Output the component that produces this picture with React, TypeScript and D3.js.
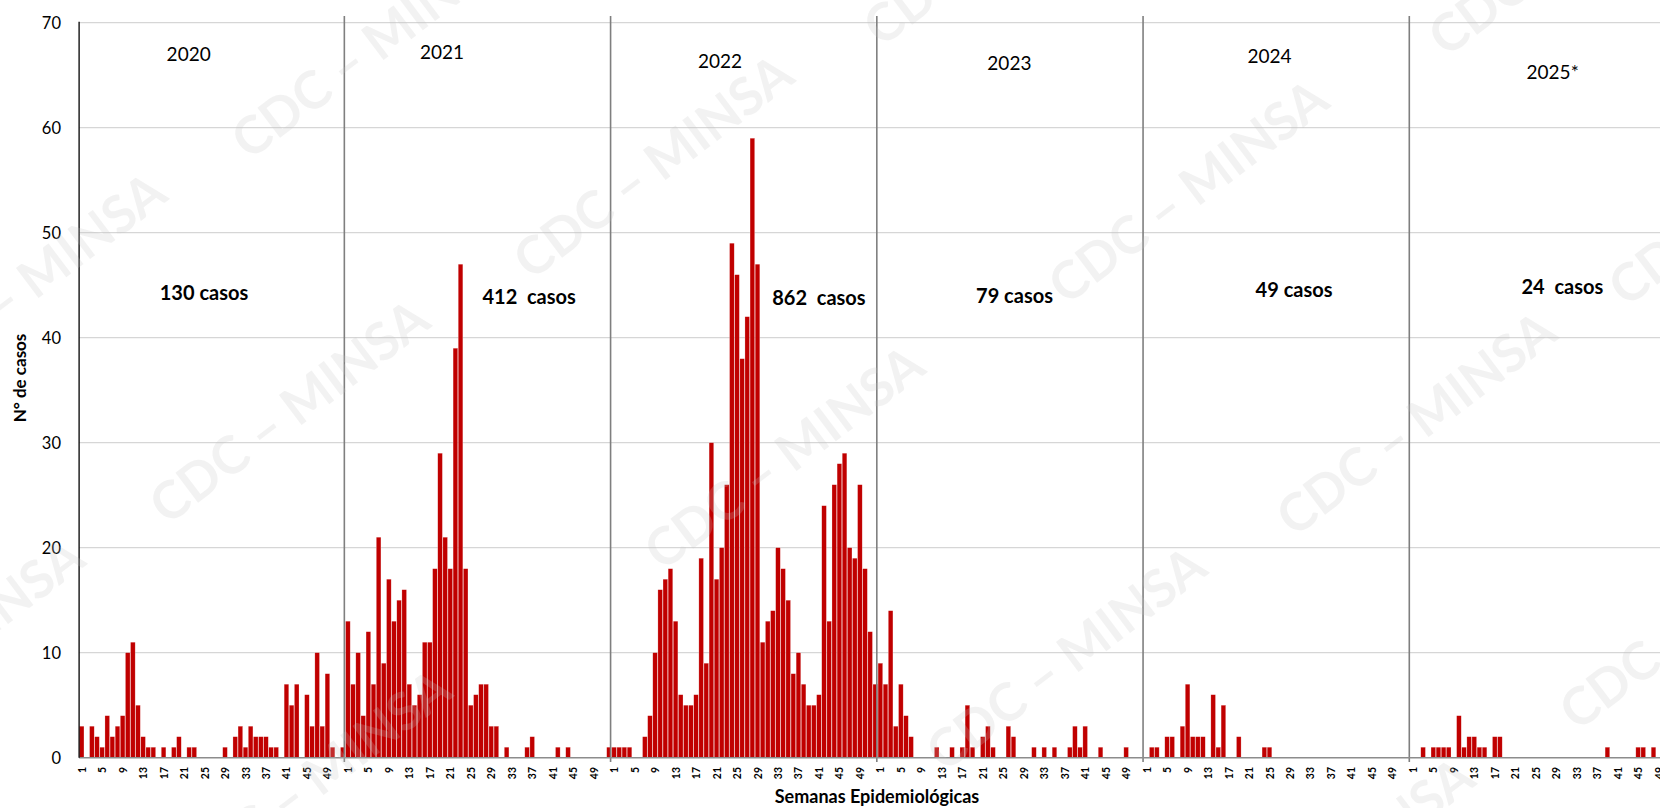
import * as d3 from "d3";

// weekly case counts, epidemiological weeks 1..52
const years = ["2020", "2021", "2022", "2023", "2024", "2025"];
const cases2020 = [3, 0, 3, 2, 1, 4, 2, 3, 4, 10, 11, 5, 2, 1, 1, 0, 1, 0, 1, 2, 0, 1, 1, 0, 0, 0, 0, 0, 1, 0, 2, 3, 1, 3, 2, 2, 2, 1, 1, 0, 7, 5, 7, 0, 6, 3, 10, 3, 8, 1, 0, 1];
const cases2021 = [13, 7, 10, 4, 12, 7, 21, 9, 17, 13, 15, 16, 7, 5, 6, 11, 11, 18, 29, 21, 18, 39, 47, 18, 5, 6, 7, 7, 3, 3, 0, 1, 0, 0, 0, 1, 2, 0, 0, 0, 0, 1, 0, 1, 0, 0, 0, 0, 0, 0, 0, 1];
const cases2022 = [1, 1, 1, 1, 0, 0, 2, 4, 10, 16, 17, 18, 13, 6, 5, 5, 6, 19, 9, 30, 17, 20, 26, 49, 46, 38, 42, 59, 47, 11, 13, 14, 20, 18, 15, 8, 10, 7, 5, 5, 6, 24, 13, 26, 28, 29, 20, 19, 26, 18, 12, 7];
const cases2023 = [9, 7, 14, 3, 7, 4, 2, 0, 0, 0, 0, 1, 0, 0, 1, 0, 1, 5, 1, 0, 2, 3, 1, 0, 0, 3, 2, 0, 0, 0, 1, 0, 1, 0, 1, 0, 0, 1, 3, 1, 3, 0, 0, 1, 0, 0, 0, 0, 1, 0, 0, 0];
const cases2024 = [0, 1, 1, 0, 2, 2, 0, 3, 7, 2, 2, 2, 0, 6, 1, 5, 0, 0, 2, 0, 0, 0, 0, 1, 1, 0, 0, 0, 0, 0, 0, 0, 0, 0, 0, 0, 0, 0, 0, 0, 0, 0, 0, 0, 0, 0, 0, 0, 0, 0, 0, 0];
const cases2025 = [0, 0, 1, 0, 1, 1, 1, 1, 0, 4, 1, 2, 2, 1, 1, 0, 2, 2, 0, 0, 0, 0, 0, 0, 0, 0, 0, 0, 0, 0, 0, 0, 0, 0, 0, 0, 0, 0, 1, 0, 0, 0, 0, 0, 1, 1, 0, 1, 0, 0, 0, 0];
const series = [cases2020, cases2021, cases2022, cases2023, cases2024, cases2025];

const yTicks = [0, 10, 20, 30, 40, 50, 60, 70];
const weekTicks = [1, 5, 9, 13, 17, 21, 25, 29, 33, 37, 41, 45, 49];

// text boxes, anchored in (week, value) of their year
const yearLabels = ["2020", "2021", "2022", "2023", "2024", "2025*"];
const yearLabelWeek = [21.9, 19.4, 21.7, 26.2, 25, 28.3];
const yearLabelValue = [66.4, 66.5, 65.7, 65.5, 66.2, 64.6];
const totalLabels = ["130 casos", "412  casos", "862  casos", "79 casos", "49 casos", "24  casos"];
const totalLabelWeek = [24.9, 36.4, 41, 27.2, 29.8, 30.2];
const totalLabelValue = [43.6, 43.2, 43.1, 43.3, 43.85, 44.2];

// watermark stamps
const stamps = [
  [370, 45], [652, 165], [1187, 190], [25, 283], [288, 410], [783, 456],
  [1415, 422], [1065, 657], [1698, 616], [1747, 192], [1002, -68], [1567, -58],
  [310, 780], [-57, 648], [1333, 868],
];

const FONT = "Lato, Carlito, Calibri, sans-serif";

export default function App() {
  const rows = years.flatMap((yr, i) =>
    series[i].map((v, w) => ({ key: `${yr}-${w + 1}`, year: yr, week: w + 1, value: v }))
  );

  const left = 79.1;
  const step = 5.12;
  const x = d3.scaleBand<string>()
    .domain(rows.map((d) => d.key))
    .range([left, left + rows.length * step])
    .padding(0);
  const y = d3.scaleLinear().domain([0, 70]).range([757.7, 22.7]);

  const weekX = (yr: string, wk: number) => (x(`${yr}-1`) as number) + (wk - 0.5) * x.step();
  const bw = x.bandwidth();

  return (
    <svg width={1660} height={808} style={{ position: "absolute", left: 0, top: 0, display: "block", background: "#fff" }}
      fontFamily={FONT}>
      <rect x={0} y={0} width={1660} height={808} fill="#fff" />

      {/* grid */}
      {yTicks.filter((t) => t > 0).map((t) => (
        <line key={t} x1={left} x2={1660} y1={y(t)} y2={y(t)} stroke="#d6d6d6" strokeWidth={1.2} />
      ))}

      {/* bars */}
      {rows.filter((d) => d.value > 0).map((d) => (
        <rect key={d.key} x={(x(d.key) as number) + 0.25} width={bw - 0.5}
          y={y(d.value)} height={y(0) - y(d.value)}
          fill="#c00000" stroke="#ffffff" strokeOpacity={0.45} strokeWidth={0.5} />
      ))}

      {/* year separators */}
      {years.slice(1).map((yr) => (
        <line key={yr} x1={(x(`${yr}-1`) as number) - 1} x2={(x(`${yr}-1`) as number) - 1} y1={16} y2={762}
          stroke="#7f7f7f" strokeWidth={1.6} />
      ))}

      {/* axes */}
      <line x1={left} x2={1660} y1={y(0)} y2={y(0)} stroke="#8c8c8c" strokeWidth={1.5} />
      <line x1={left} x2={left} y1={y(70) - 1} y2={y(0)} stroke="#000" strokeWidth={1.3} />

      {yTicks.map((t) => (
        <text key={t} x={61} y={y(t)} textAnchor="end" dominantBaseline="central" fontSize={16.5} fill="#000">{t}</text>
      ))}

      {years.flatMap((yr) => weekTicks.map((wk) => (
        <text key={`${yr}-${wk}`} transform={`translate(${weekX(yr, wk)},767) rotate(-90)`}
          textAnchor="end" dominantBaseline="central" fontSize={10.5} fontWeight="bold" fill="#000">{wk}</text>
      )))}

      <text transform="translate(19,378) rotate(-90)" textAnchor="middle" dominantBaseline="central"
        fontSize={17} fontWeight="bold" fill="#000">N° de casos</text>
      <text x={877} y={803} textAnchor="middle" fontSize={18} fontWeight="bold" fill="#000">Semanas Epidemiológicas</text>

      {/* annotations */}
      {years.map((yr, i) => (
        <text key={`yl-${yr}`} x={weekX(yr, yearLabelWeek[i])} y={y(yearLabelValue[i])} textAnchor="middle"
          fontSize={19} fill="#000">{yearLabels[i]}</text>
      ))}
      {years.map((yr, i) => (
        <text key={`tl-${yr}`} x={weekX(yr, totalLabelWeek[i])} y={y(totalLabelValue[i])} textAnchor="middle"
          fontSize={20} fontWeight="bold" fill="#000" style={{ whiteSpace: "pre" }}>{totalLabels[i]}</text>
      ))}

      {/* watermark */}
      {stamps.map(([sx, sy], i) => (
        <text key={`wm-${i}`} transform={`translate(${sx},${sy}) rotate(-37)`} textAnchor="middle" dominantBaseline="central"
          fontSize={52} fontWeight="bold" fill="#c4c4c4" fillOpacity={0.22}>CDC – MINSA</text>
      ))}
    </svg>
  );
}
